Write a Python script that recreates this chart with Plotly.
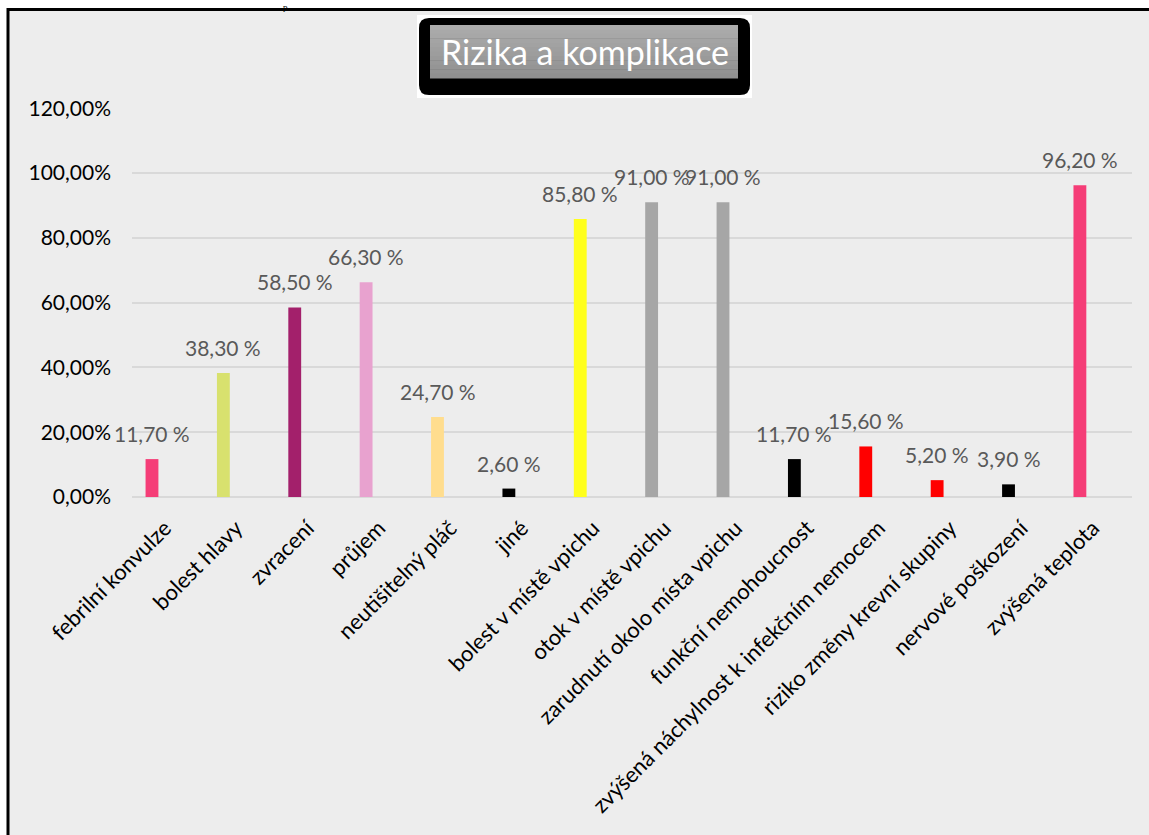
import plotly.graph_objects as go

categories = [
    "febrilní konvulze", "bolest hlavy", "zvracení", "průjem", "neutišitelný pláč",
    "jiné", "bolest v místě vpichu", "otok v místě vpichu", "zarudnutí okolo místa vpichu",
    "funkční nemohoucnost", "zvýšená náchylnost k infekčním nemocem",
    "riziko změny krevní skupiny", "nervové poškození", "zvýšená teplota",
]
values_pct = [11.70, 38.30, 58.50, 66.30, 24.70, 2.60, 85.80, 91.00, 91.00, 11.70, 15.60, 5.20, 3.90, 96.20]
bar_colors = [
    "#F53D77", "#D8E16E", "#A3206B", "#E8A2CF", "#FFDD8E", "#000000", "#FFFF1C",
    "#A6A6A6", "#A6A6A6", "#000000", "#FF0000", "#FF0000", "#000000", "#F53D77",
]
y_ticks = [0, 0.2, 0.4, 0.6, 0.8, 1.0, 1.2]
title_text = "Rizika a komplikace"

W, H = 1149, 835
L, R, T, B = 132, 1132, 108, 497  # plot area in pixels


def X(px):
    return (px - L) / (R - L)


def Y(py):
    return (B - py) / (B - T)


def rounded_rect(x0, y0, x1, y1, r):
    return (
        f"M {X(x0 + r)},{Y(y0)} L {X(x1 - r)},{Y(y0)} Q {X(x1)},{Y(y0)} {X(x1)},{Y(y0 + r)} "
        f"L {X(x1)},{Y(y1 - r)} Q {X(x1)},{Y(y1)} {X(x1 - r)},{Y(y1)} "
        f"L {X(x0 + r)},{Y(y1)} Q {X(x0)},{Y(y1)} {X(x0)},{Y(y1 - r)} "
        f"L {X(x0)},{Y(y0 + r)} Q {X(x0)},{Y(y0)} {X(x0 + r)},{Y(y0)} Z"
    )


labels = [f"{v:.2f}".replace(".", ",") + " %" for v in values_pct]
yvals = [v / 100 for v in values_pct]

fig = go.Figure()
fig.add_trace(go.Bar(
    x=categories,
    y=yvals,
    marker=dict(color=bar_colors, line=dict(width=0)),
    width=0.18,
    hoverinfo="skip",
))

shapes = [
    dict(type="rect", xref="paper", yref="paper", layer="below",
         x0=X(8), x1=X(1170), y0=Y(9.5), y1=Y(860),
         fillcolor="#EDEDED", line=dict(color="#000000", width=3)),
    dict(type="rect", xref="paper", yref="paper", layer="above",
         x0=X(417), x1=X(752), y0=Y(15), y1=Y(98),
         fillcolor="white", line=dict(width=0)),
    dict(type="path", xref="paper", yref="paper", layer="above",
         path=rounded_rect(419, 18, 750, 95, 10),
         fillcolor="#000000", line=dict(width=0)),
]
# gray gradient panel of the title box
n_bands = 12
top_px, bot_px = 25, 78
c_top, c_bot = 172, 144
for i in range(n_bands):
    y0 = top_px + (bot_px - top_px) * i / n_bands
    y1 = top_px + (bot_px - top_px) * (i + 1) / n_bands
    c = round(c_top + (c_bot - c_top) * i / (n_bands - 1))
    shapes.append(dict(type="rect", xref="paper", yref="paper", layer="above",
                       x0=X(430), x1=X(738), y0=Y(y0), y1=Y(y1 + 0.5),
                       fillcolor=f"rgb({c},{c},{c})", line=dict(width=0)))

annotations = [
    dict(text=title_text, xref="paper", yref="paper", x=X(585), y=Y(52),
         xanchor="center", yanchor="middle", showarrow=False,
         font=dict(family="Lato", size=34, color="white")),
    dict(text="p", xref="paper", yref="paper", x=X(285), y=Y(0),
         xanchor="center", yanchor="top", showarrow=False,
         font=dict(family="Liberation Serif", size=9, color="black")),
]
for c, v, t in zip(categories, yvals, labels):
    annotations.append(dict(
        text=t, x=c, y=v, xref="x", yref="y",
        xanchor="center", yanchor="bottom", yshift=11, showarrow=False,
        font=dict(family="Lato", size=21, color="#595959"),
    ))

fig.update_layout(
    width=W, height=H,
    margin=dict(l=L, r=W - R, t=T, b=H - B, autoexpand=False),
    paper_bgcolor="white",
    plot_bgcolor="rgba(0,0,0,0)",
    separators=", ",
    showlegend=False,
    font=dict(family="Lato", size=20, color="#000000"),
    xaxis=dict(
        range=[-0.28, 13.73],
        tickangle=-45,
        showgrid=False,
        showline=False,
        ticks="",
        ticklabelstandoff=13,
        ticklabelshift=13,
        tickfont=dict(family="Lato", size=22, color="#000000"),
    ),
    yaxis=dict(
        range=[0, 1.2005],
        tickvals=y_ticks,
        tickformat=".2%",
        showgrid=True,
        gridcolor="#D9D9D9",
        gridwidth=1.5,
        zeroline=True,
        zerolinecolor="#D9D9D9",
        zerolinewidth=1.5,
        showline=False,
        ticks="",
        ticklabelstandoff=20,
        tickfont=dict(family="Lato", size=21, color="#000000"),
    ),
    shapes=shapes,
    annotations=annotations,
)

fig.write_html("out.html")
